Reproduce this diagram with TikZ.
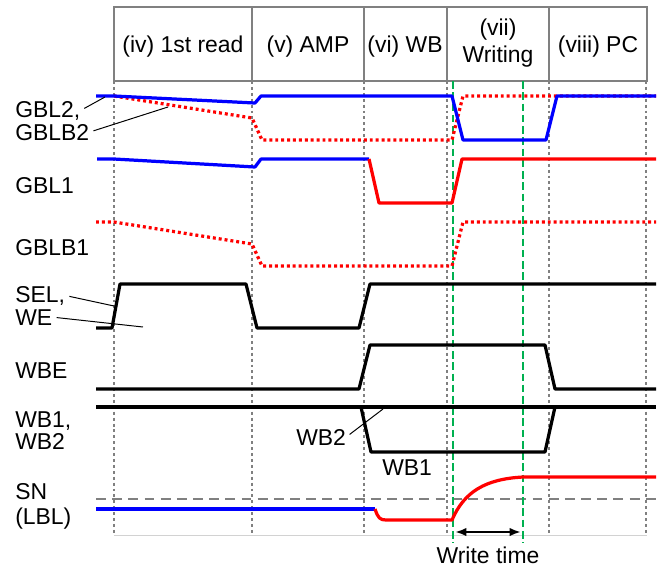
\documentclass[tikz,border=0pt]{standalone}
\usepackage{fontspec}
\setmainfont{Liberation Sans}
\usetikzlibrary{arrows.meta}
\definecolor{wgreen}{RGB}{0,176,80}
\definecolor{midgray}{RGB}{128,128,128}
\definecolor{palegray}{RGB}{210,210,210}

\begin{document}
\begin{tikzpicture}[x=0.025cm, y=-0.025cm,
    font=\fontsize{16.3}{19}\selectfont,
    >={Latex[length=8pt,width=6pt]},
    sig/.style={line width=2.3pt, line join=round},
    hi/.style={sig, blue},
    lo/.style={sig, red},
    lodot/.style={sig, red, dash pattern=on 2.1pt off 2.1pt},
    ctrl/.style={sig, black},
    headbox/.style={line width=2.1pt, midgray},
    phaseline/.style={line width=2pt, midgray, dash pattern=on 2.1pt off 2.1pt},
    wline/.style={line width=2.1pt, wgreen, dash pattern=on 5.5pt off 2.5pt},
    refline/.style={line width=1.8pt, midgray, dash pattern=on 7pt off 4.5pt},
    lbl/.style={anchor=base west, inner sep=0pt},
    lead/.style={line width=0.7pt, black, shorten <=3pt}]

  \useasboundingbox (0,0) rectangle (664,568);

  % header
  \draw [headbox] (114,7) rectangle (647,81);
  \foreach \x in {252,364,447,549}
    \draw [headbox] (\x,7) -- (\x,81);
  \node [anchor=base] (ph4) at (183,52) {(iv) 1st read};
  \node [anchor=base] (ph5) at (308,52) {(v) AMP};
  \node [anchor=base] (ph6) at (405,52) {(vi) WB};
  \node [align=center, font=\fontsize{16.3}{19.8}\selectfont] (ph7) at (498,43) {(vii)\\Writing};
  \node [anchor=base] (ph8) at (598,52) {(viii) PC};

  % phase lines
  \foreach \x in {114,252,364,447,549,646}
    \draw [phaseline] (\x,81) -- (\x,535);
  \draw [palegray, line width=0.7pt] (114,535) -- (647,535);
  \draw [refline] (96,499) -- (656,499);
  \foreach \x in {453,523}
    \draw [wline] (\x,81) -- (\x,543);

  % signals
  \draw [lodot] (114,96) -- (252,118) -- (262,140) -- (452,140) -- (463,96) -- (656,96);
  \draw [hi] (96,96) -- (114,96) -- (255,103) -- (261,96) -- (452,96) -- (463,140)
    -- (546,140) -- (557,96) -- (656,96);
  \draw [hi] (97,159) -- (114,159) -- (255,167) -- (261,159) -- (369,159);
  \draw [lo] (369,159) -- (379,203) -- (452,203) -- (462,159) -- (656,159);
  \draw [lodot] (96,222) -- (114,222) -- (252,244) -- (262,266) -- (452,266) -- (463,222) -- (656,222);
  \draw [ctrl] (96,328) -- (112,328) -- (120,284) -- (246,284) -- (257,328) -- (359,328)
    -- (370,284) -- (656,284);
  \draw [ctrl] (96,389) -- (359,389) -- (370,345) -- (545,345) -- (555,389) -- (656,389);
  \draw [ctrl] (96,407) -- (656,407);
  \draw [ctrl] (361,407) -- (371,452) -- (545,452) -- (555,407);
  \draw [hi] (96,509) -- (375,509);
  \draw [lo] (375,509) .. controls (378,518) and (380,520) .. (386,520) -- (452,520)
    .. controls (464,492) and (485,479) .. (523,477) -- (656,477);

  % labels
  \node [lbl] (gbl2) at (15,117) {GBL2,};
  \node [lbl] (gblb2) at (15,140) {GBLB2};
  \node [lbl] (gbl1) at (15,193) {GBL1};
  \node [lbl] (gblb1) at (15,255) {GBLB1};
  \node [lbl] (sel) at (15,302) {SEL,};
  \node [lbl] (we) at (15,325) {WE};
  \node [lbl] (wbe) at (15,378) {WBE};
  \node [lbl] (wb1) at (15,427) {WB1,};
  \node [lbl] (wb2) at (15,449) {WB2};
  \node [lbl] (sn) at (15,499) {SN};
  \node [lbl] (lblnode) at (15,524) {(LBL)};
  \node [lbl] (wbtwo) at (296,445) {WB2};
  \node [lbl] (wbone) at (382,475) {WB1};
  \node [anchor=base] (wtime) at (488,563) {Write time};

  % leaders
  \coordinate (p-gbl2) at (105,97);
  \coordinate (p-gblb2) at (168,107);
  \coordinate (p-sel) at (114,306);
  \coordinate (p-we) at (143,327);
  \coordinate (p-wbtwo) at (383,409);
  \draw [lead] (gbl2.east) -- (p-gbl2);
  \draw [lead] (gblb2.east) -- (p-gblb2);
  \draw [lead] (sel.east) -- (p-sel);
  \draw [lead] (we.east) -- (p-we);
  \draw [lead] (wbtwo.east) -- (p-wbtwo);

  % write time
  \coordinate (wt-a) at (453,532);
  \coordinate (wt-b) at (523,532);
  \draw [<->, line width=1.5pt, shorten <=1.5pt, shorten >=1.5pt] (wt-a) -- (wt-b);

\end{tikzpicture}
\end{document}
